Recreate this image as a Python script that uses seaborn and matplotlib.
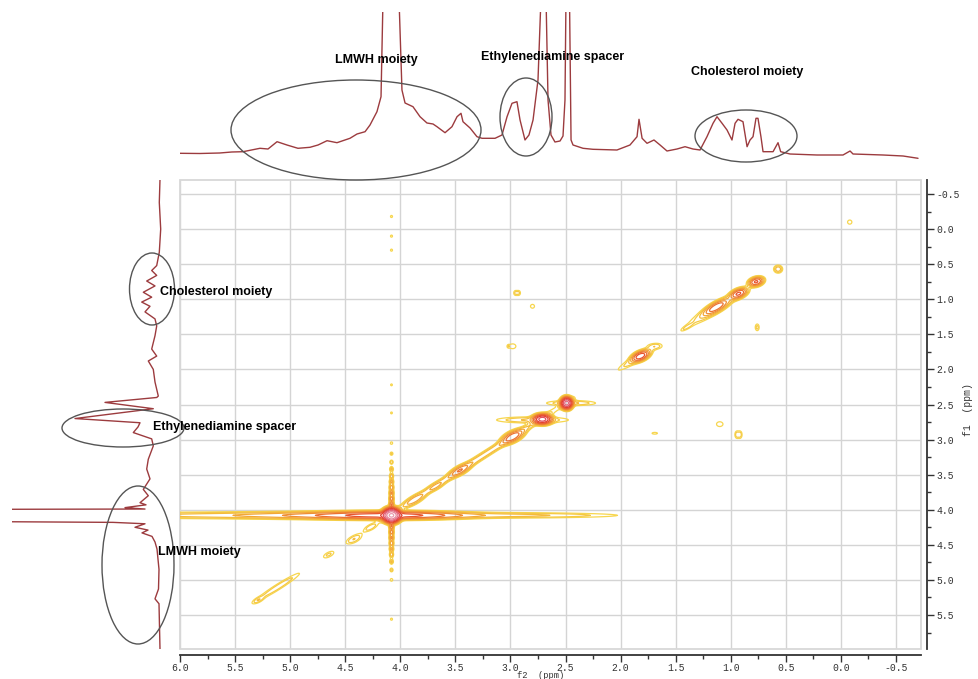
import numpy as np
import matplotlib
matplotlib.use("Agg")
import matplotlib.pyplot as plt
from matplotlib.patches import Ellipse, Rectangle
from matplotlib.ticker import MultipleLocator
import seaborn as sns

# ---------------- data ----------------
# 1D projection on top (f2): chemical shift (ppm) and intensity (arb.)
top_ppm = [6.00, 5.82, 5.64, 5.53, 5.428, 5.274, 5.201, 5.119, 5.029, 4.929, 4.820, 4.747,
           4.665, 4.575, 4.457, 4.393, 4.320, 4.275, 4.212, 4.175, 4.157, 4.084, 4.012,
           3.985, 3.957, 3.885, 3.821, 3.758, 3.703, 3.667, 3.594, 3.531, 3.485, 3.449,
           3.431, 3.367, 3.304, 3.258, 3.140, 3.077, 3.031, 2.986, 2.941, 2.913, 2.868,
           2.832, 2.795, 2.750, 2.723, 2.700, 2.677, 2.659, 2.632, 2.596, 2.550, 2.523,
           2.505, 2.496, 2.482, 2.464, 2.450, 2.432, 2.341, 2.251, 2.033, 1.915, 1.851,
           1.833, 1.805, 1.760, 1.697, 1.642, 1.579, 1.488, 1.415, 1.343, 1.279, 1.216,
           1.161, 1.125, 1.079, 1.034, 0.989, 0.961, 0.934, 0.889, 0.852, 0.825, 0.798,
           0.771, 0.753, 0.726, 0.707, 0.616, 0.571, 0.547, 0.462, 0.217, -0.019, -0.083,
           -0.110, -0.382, -0.564, -0.700]
top_int = [4.7, 4.5, 5.0, 6.0, 6.3, 9.7, 9.0, 16.3, 13.0, 9.7, 10.7, 13.0,
           17.3, 15.3, 19.7, 24.0, 26.3, 33.0, 46.3, 61.3, 160, 400, 160,
           68, 55, 51.3, 41.3, 35, 34, 31.3, 25.3, 31.3, 41.3, 44.7,
           36.3, 30, 21.3, 19.7, 19.7, 23, 41.3, 54.7, 56.3, 38, 18,
           23, 38, 78, 160, 400, 160, 58, 23, 16, 17, 22,
           58, 160, 400, 160, 18, 13, 9.7, 8.7, 8, 13, 21.3,
           38.7, 19.7, 14.7, 18, 13, 7, 9, 11.3, 9, 8, 21.3,
           34.7, 41.3, 34.7, 28, 18, 34.7, 38.7, 36.3, 11.3, 18, 21.3,
           39.7, 39.7, 21.3, 6.3, 6.3, 15.3, 6.3, 4, 3, 3, 7,
           4, 3, 2, -0.3]

# 1D projection on the left (f1)
left_ppm = [-0.71, -0.38, 0.00, 0.33, 0.52, 0.59, 0.66, 0.74, 0.81, 0.90, 0.97, 1.04,
            1.10, 1.18, 1.28, 1.38, 1.52, 1.71, 1.81, 1.88, 2.00, 2.18, 2.38, 2.40,
            2.47, 2.56, 2.70, 2.76, 2.82, 2.90, 2.99, 3.09, 3.28, 3.42, 3.56, 3.71,
            3.80, 3.90, 3.93, 3.97, 3.99, 4.00, 4.075, 4.15, 4.18, 4.20, 4.25, 4.29,
            4.33, 4.38, 4.46, 4.56, 4.85, 5.13, 5.27, 5.34, 5.99]
left_int = [0, 0.7, -0.7, 0.7, 3.3, 8.3, 3.3, 13.3, 5, 16.7, 8.3, 18.3,
            10, 15, 5, 3.3, 5, 8.3, 3.3, 11.7, 6.7, 5, 1.7, 3.3,
            55, 6.7, 85, 20, 22, 26.7, 8.3, 6.7, 11.7, 13.3, 10, 16.7,
            11.7, 20, 14, 35, 15, 400, 1200, 400, 47, 15, 25, 12,
            18, 8, 5, 3, 1, 1.5, 5, 1, 0]

# 2D cross / diagonal peaks: f2, f1, amplitude, width along, width across, angle (deg)
pk_f2 = [4.08, 4.08, 4.55, 5.30, 3.00, 4.08,
         3.30, 3.87, 3.68, 3.46, 2.98, 2.71, 2.80, 2.49, 2.45,
         4.27, 4.42, 4.65, 5.11, 5.29,
         1.82, 1.86, 1.69, 1.40, 1.13, 1.17, 0.93, 0.77, 0.57, -0.08,
         2.955, 2.925, 2.80, 2.98, 3.02, 0.76, 1.10, 0.945, 0.915, 1.69]
pk_f1 = [4.08, 4.08, 4.08, 4.08, 4.08, 4.08,
         3.28, 3.86, 3.67, 3.44, 2.96, 2.71, 2.72, 2.48, 2.48,
         4.25, 4.42, 4.64, 5.10, 5.29,
         1.81, 1.85, 1.67, 1.40, 1.11, 1.16, 0.92, 0.75, 0.57, -0.10,
         0.91, 0.91, 1.10, 1.67, 1.67, 1.40, 2.78, 2.93, 2.93, 2.91]
pk_amp = [260, 22, 6, 4, 3, 8,
          4, 5, 3, 9, 16, 70, 3, 110, 3,
          2, 2.5, 1.8, 2.5, 1.8,
          28, 2.6, 2, 1.6, 16, 3, 22, 22, 4, 1.6,
          1.8, 1.8, 1.5, 1.6, 1.2, 2, 1.6, 2.2, 2.2, 1.4]
pk_wa = [0.035, 0.35, 0.45, 1.0, 0.65, 0.012,
         0.70, 0.08, 0.06, 0.07, 0.07, 0.04, 0.22, 0.025, 0.15,
         0.05, 0.06, 0.05, 0.20, 0.04,
         0.05, 0.15, 0.05, 0.05, 0.08, 0.20, 0.05, 0.04, 0.025, 0.02,
         0.014, 0.014, 0.02, 0.03, 0.01, 0.015, 0.03, 0.014, 0.014, 0.03]
pk_wb = [0.045, 0.03, 0.03, 0.03, 0.025, 0.32,
         0.025, 0.03, 0.025, 0.03, 0.035, 0.035, 0.03, 0.04, 0.025,
         0.025, 0.03, 0.025, 0.025, 0.02,
         0.03, 0.03, 0.03, 0.015, 0.03, 0.04, 0.03, 0.03, 0.035, 0.03,
         0.03, 0.03, 0.03, 0.035, 0.02, 0.04, 0.035, 0.04, 0.04, 0.015]
pk_ang = [0, 0, 0, 0, 0, 0,
          45, 45, 45, 45, 45, 0, 0, 0, 0,
          45, 45, 45, 45, 45,
          45, 45, 0, 45, 45, 45, 45, 45, 0, 0,
          0, 0, 0, 0, 0, 0, 0, 0, 0, 0]

# t1-noise dots along f2 = 4.08
dot_f1 = [-0.18, 0.10, 0.30, 2.22, 2.62, 3.05, 3.20, 3.32, 3.42, 3.52, 3.60, 3.68, 3.76,
          3.84, 3.92, 4.24, 4.32, 4.40, 4.48, 4.56, 4.64, 4.74, 4.86, 5.00, 5.56]
dot_amp = [1.4, 1.4, 1.4, 1.3, 1.3, 1.5, 1.8, 2.0, 2.3, 2.6, 3.0, 3.4, 4.0,
           4.5, 5.0, 5.0, 4.5, 4.0, 3.4, 3.0, 2.6, 2.2, 1.8, 1.5, 1.4]

# labels and ellipses (figure pixels)
label_txt = ["LMWH moiety", "Ethylenediamine spacer", "Cholesterol moiety",
             "Cholesterol moiety", "Ethylenediamine spacer", "LMWH moiety"]
label_xy = [(335, 60), (481, 57), (691, 72), (160, 292), (153, 427), (158, 552)]
ell_c = [(356, 130), (526, 117), (746, 136), (152, 289), (123, 428), (138, 565)]
ell_wh = [(250, 100), (52, 78), (102, 52), (45, 72), (122, 38), (72, 158)]

W, H = 979, 679
XLIM = (6.0, -0.727)
YLIM = (5.985, -0.70)

# ---------------- figure ----------------
sns.set_style("white")
plt.rcParams["font.family"] = ["Liberation Sans", "DejaVu Sans"]

fig = plt.figure(figsize=(W / 100, H / 100), dpi=100)


def fx(px):
    return px / W


def fy(py):
    return 1 - py / H


spec_color = "#9c3b3e"

# main 2D axes
ax = fig.add_axes([fx(180), fy(649), (921 - 180) / W, (649 - 180) / H])
ax.set_xlim(*XLIM)
ax.set_ylim(*YLIM)

f2 = np.linspace(6.5, -0.9, 1700)
f1 = np.linspace(-0.9, 6.2, 1150)
F2, F1 = np.meshgrid(f2, f1)
Z = np.zeros_like(F2)
for c2, c1, a, sa, sb, ang in zip(pk_f2, pk_f1, pk_amp, pk_wa, pk_wb, pk_ang):
    th = np.deg2rad(ang)
    dx = F2 - c2
    dy = F1 - c1
    u = dx * np.cos(th) + dy * np.sin(th)
    v = -dx * np.sin(th) + dy * np.cos(th)
    Z += a * np.exp(-0.5 * ((u / sa) ** 2 + (v / sb) ** 2))
for c1, a in zip(dot_f1, dot_amp):
    Z += a * np.exp(-0.5 * (((F2 - 4.08) / 0.011) ** 2 + ((F1 - c1) / 0.018) ** 2))

levels = [1.0, 1.65, 2.7, 4.5, 7.4, 12, 20, 33, 55, 90, 150, 250]
cols = ['#f7d64e', '#f5c944', '#f4bb3d', '#f2a838', '#ef8f35', '#ec7232',
        '#e85530', '#e4402f', '#e2505e', '#e36a80', '#e68499', '#ea9cb0']
ax.contour(F2, F1, Z, levels=levels, colors=cols, linewidths=0.9, zorder=3)

ax.xaxis.set_major_locator(MultipleLocator(0.5))
ax.xaxis.set_minor_locator(MultipleLocator(0.25))
ax.yaxis.set_major_locator(MultipleLocator(0.5))
ax.yaxis.set_minor_locator(MultipleLocator(0.25))
ax.yaxis.tick_right()
ax.grid(True, which="major", color="#d4d4d4", lw=1)
ax.set_axisbelow(True)
for s in ["left", "top"]:
    ax.spines[s].set_visible(False)
for s in ["bottom", "right"]:
    ax.spines[s].set_visible(True)
    ax.spines[s].set_color("#333333")
    ax.spines[s].set_linewidth(1.3)
    ax.spines[s].set_position(("outward", 4))
ax.tick_params(axis="both", which="major", length=5, width=1, color="#333333",
               labelsize=7, labelcolor="#333333", pad=2)
ax.tick_params(axis="x", which="major", pad=1)
ax.tick_params(axis="both", which="minor", length=3, width=1, color="#333333")
ax.tick_params(axis="x", bottom=True, which="both")
ax.tick_params(axis="y", right=True, left=False, which="both")
xt = np.arange(6.0, -0.51, -0.5)
yt = np.arange(-0.5, 5.51, 0.5)
ax.set_xticks(xt)
ax.set_xticklabels([f"{v:.1f}".replace("-0.0", "0.0") for v in xt], family="Liberation Mono")
ax.set_yticks(yt)
ax.set_yticklabels([f"{v:.1f}".replace("-0.0", "0.0") for v in yt], family="Liberation Mono")
ax.set_xlim(*XLIM)
ax.set_ylim(*YLIM)
ax.add_patch(Rectangle((0, 0), 1, 1, transform=ax.transAxes, fill=False,
                       ec="#d8d8d8", lw=1.3, clip_on=False, zorder=1))

fig.text(fx(541), fy(675.5), "f2  (ppm)", fontsize=6.3, color="#333333",
         family="Liberation Mono", ha="center", va="center")
fig.text(fx(968), fy(410), "f1  (ppm)", fontsize=7, color="#333333",
         family="Liberation Mono", ha="center", va="center", rotation=90)

# top projection
axt = fig.add_axes([fx(180), fy(172), (921 - 180) / W, (172 - 12) / H])
sns.lineplot(x=top_ppm, y=top_int, sort=False, estimator=None, ax=axt,
             color=spec_color, lw=1)
axt.set_xlim(*XLIM)
axt.set_ylim(-14, 146)
axt.axis("off")

# left projection
axl = fig.add_axes([fx(12), fy(649), (178 - 12) / W, (649 - 180) / H])
sns.lineplot(x=left_int, y=left_ppm, sort=False, estimator=None, orient="y",
             ax=axl, color=spec_color, lw=1)
axl.set_xlim(148, -18)
axl.set_ylim(*YLIM)
axl.axis("off")

# annotations
for (cx, cy), (w, h) in zip(ell_c, ell_wh):
    fig.add_artist(Ellipse((fx(cx), fy(cy)), w / W, h / H, transform=fig.transFigure,
                           fill=False, ec="#555555", lw=1))
for t, (x, y) in zip(label_txt, label_xy):
    fig.text(fx(x), fy(y), t, fontsize=9, fontweight="bold", color="black",
             ha="left", va="center")

fig.savefig("out.png", dpi=100)
